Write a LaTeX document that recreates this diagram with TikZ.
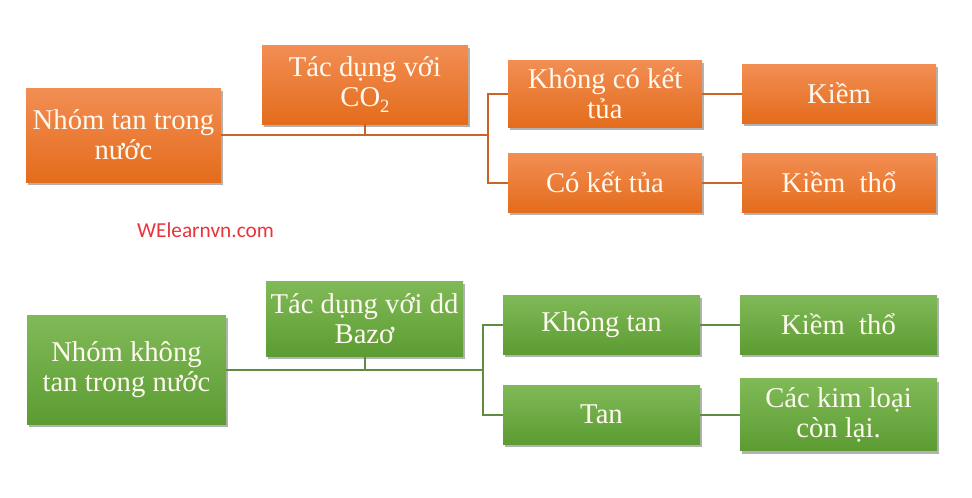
\documentclass[tikz,border=0pt]{standalone}
\usepackage{fontspec}
\setmainfont{Liberation Serif}
\newfontfamily\wmfont{Carlito}
\usetikzlibrary{shadows}
\definecolor{otop}{RGB}{242,142,84}
\definecolor{obot}{RGB}{228,108,28}
\definecolor{gtop}{RGB}{128,186,88}
\definecolor{gbot}{RGB}{92,156,50}
\definecolor{oline}{RGB}{200,100,40}
\definecolor{gline}{RGB}{96,140,66}
\definecolor{wmred}{RGB}{232,52,60}
\definecolor{txt}{RGB}{255,250,240}
\newcommand{\subtwo}{\raisebox{-0.45ex}{\fontsize{14}{14}\selectfont 2}}
\begin{document}
\begin{tikzpicture}[x=0.75pt,y=-0.75pt,
 boxbase/.style={rectangle, inner sep=0pt, align=center, text=txt,
   font=\fontsize{21.5}{22.5}\selectfont,
   drop shadow={shadow xshift=1.5pt, shadow yshift=-2.5pt, opacity=0.3, fill=black}},
 sz/.style 2 args={minimum width=#1*0.75pt, minimum height=#2*0.75pt},
 obox/.style={boxbase, top color=otop, bottom color=obot},
 gbox/.style={boxbase, top color=gtop, bottom color=gbot},
 oconn/.style={draw=oline, line width=1.5pt},
 gconn/.style={draw=gline, line width=1.5pt},
]
\useasboundingbox (0,0) rectangle (972,497);

% top group
\node[obox, sz={195}{94}] (A1) at (123.5,135) {Nhóm tan trong\\nước};
\node[obox, sz={206}{79}] (B1) at (365,84.5) {Tác dụng với\\CO\subtwo};
\node[obox, sz={194}{67}] (C1) at (605,93.5) {Không có kết\\tủa};
\node[obox, sz={194}{59}] (C2) at (605,182.5) {Có kết tủa};
\node[obox, sz={194}{59}] (D1) at (839,93.5) {Kiềm};
\node[obox, sz={194}{59}] (D2) at (839,182.5) {Kiềm\ \ thổ};
\coordinate (j1) at (488,135);
\draw[oconn] (A1.east) -- (j1);
\draw[oconn] (B1.south) -- (B1.south |- j1);
\draw[oconn] (C1.west) -| (j1) |- (C2.west);
\draw[oconn] (C1.east) -- (D1.west);
\draw[oconn] (C2.east) -- (D2.west);

% watermark
\node[text=wmred, font=\wmfont\fontsize{16}{18}\selectfont, inner sep=0pt] (wm) at (205.5,230) {WElearnvn.com};

% bottom group
\node[gbox, sz={199}{109}] (A2) at (126.5,369.5) {Nhóm không\\tan trong nước};
\node[gbox, sz={197}{75}] (B2) at (364.5,318.5) {Tác dụng với dd\\Bazơ};
\node[gbox, sz={197}{59}] (C3) at (601.5,324.5) {Không tan};
\node[gbox, sz={197}{59}] (C4) at (601.5,414.5) {Tan};
\node[gbox, sz={197}{59}] (D3) at (838.5,324.5) {Kiềm\ \ thổ};
\node[gbox, sz={197}{72}] (D4) at (838.5,414.5) {Các kim loại\\còn lại.};
\coordinate (j2) at (483,369.5);
\draw[gconn] (A2.east) -- (j2);
\draw[gconn] (B2.south) -- (B2.south |- j2);
\draw[gconn] (C3.west) -| (j2) |- (C4.west);
\draw[gconn] (C3.east) -- (D3.west);
\draw[gconn] (C4.east) -- (D4.west);
\end{tikzpicture}
\end{document}
